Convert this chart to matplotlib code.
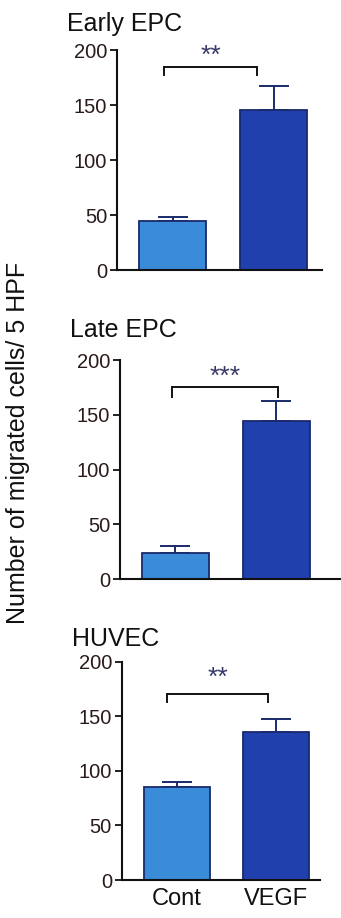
import matplotlib
matplotlib.use("Agg")
import matplotlib.pyplot as plt

plt.rcParams['font.family'] = ['Liberation Sans', 'DejaVu Sans']

groups = ["Cont", "VEGF"]
titles = ["Early EPC", "Late EPC", "HUVEC"]
means = [[44.5, 145.5], [23.7, 144.6], [85.5, 135.3]]
errors = [[4.0, 21.5], [6.7, 18.0], [4.0, 12.2]]
sig_labels = ["**", "***", "**"]
bracket_y = [185, 175.6, 170.7]
bracket_drop = [7.5, 9, 7.5]
bracket_x = [[-0.08, 0.84], [-0.03, 1.02], [-0.1, 0.92]]
yticks = [0, 50, 100, 150, 200]

light = "#3a8bd8"
dark = "#1f40ad"
edge = "#1a2a6a"

W, H = 341, 918
fig = plt.figure(figsize=(W / 100, H / 100), dpi=100)

# axes boxes in pixels: left, right, top(200), bottom(0)
boxes = [(117, 322, 50, 270), (120, 340, 360, 579.3), (121.7, 320, 661.7, 880)]
xlims = [(-0.55, 1.48), (-0.547, 1.63), (-0.555, 1.44)]
title_pos = [(67, 24), (70, 330), (72, 639)]
star_y = [195, 185, 185]

for i in range(3):
    l, r, t, b = boxes[i]
    ax = fig.add_axes([l / W, 1 - b / H, (r - l) / W, (b - t) / H])
    ax.bar([0, 1], means[i], width=0.66, color=[light, dark],
           edgecolor=edge, linewidth=1.3, zorder=2)
    ax.errorbar([0, 1], means[i], yerr=[[0, 0], errors[i]], fmt='none',
                ecolor=edge, elinewidth=1.4, capsize=11, capthick=1.4, zorder=1)
    ax.set_ylim(0, 200)
    ax.set_xlim(*xlims[i])
    ax.set_yticks(yticks)
    ax.spines['top'].set_visible(False)
    ax.spines['right'].set_visible(False)
    for s in ('left', 'bottom'):
        ax.spines[s].set_linewidth(1.5)
        ax.spines[s].set_color('#111111')
    ax.tick_params(axis='y', direction='out', length=5, width=1.3,
                   labelsize=14.5, colors='#111111', labelcolor='#2a1a1a', pad=2)
    ax.patch.set_alpha(0)
    if i == 2:
        ax.set_xticks([0, 1])
        ax.set_xticklabels(groups)
        ax.tick_params(axis='x', length=0, labelsize=17, pad=6, labelcolor='#111111')
    else:
        ax.set_xticks([])
    # significance bracket
    x0, x1 = bracket_x[i]
    yb = bracket_y[i]
    yd = yb - bracket_drop[i]
    ax.plot([x0, x0, x1, x1], [yd, yb, yb, yd], color='#111111', lw=1.4,
            clip_on=False, solid_joinstyle='miter')
    ax.text((x0 + x1) / 2, star_y[i], sig_labels[i], ha='center', va='center',
            fontsize=19, color='#3a3a6a', clip_on=False)
    tx, ty = title_pos[i]
    fig.text(tx / W, 1 - ty / H, titles[i], ha='left', va='center',
             fontsize=18, color='#111111')

fig.text(18 / W, 1 - 443 / H, "Number of migrated cells/ 5 HPF", rotation=90,
         ha='center', va='center', fontsize=18, color='#111111')

fig.savefig("out.png", dpi=100, facecolor='white')
